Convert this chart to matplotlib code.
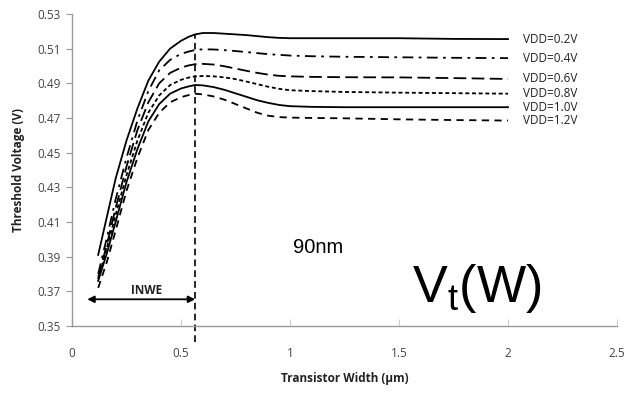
import numpy as np
import matplotlib.pyplot as plt

# transistor width (um) and threshold voltage (V) for each VDD
w = [0.12, 0.16, 0.2, 0.25, 0.3, 0.35, 0.4, 0.45, 0.5, 0.535, 0.565, 0.6, 0.65, 0.7, 0.75,
     0.8, 0.85, 0.9, 0.95, 1.0, 1.1, 1.25, 1.5, 1.75, 2.0]

vt_02 = [0.391, 0.413, 0.435, 0.457, 0.4755, 0.4915, 0.5025, 0.5100, 0.5145, 0.5168, 0.5182, 0.5190, 0.5190, 0.5186, 0.5182,
         0.5178, 0.5172, 0.5166, 0.5162, 0.5160, 0.5160, 0.5160, 0.5160, 0.5156, 0.5155]
vt_04 = [0.380, 0.401, 0.423, 0.447, 0.4685, 0.4855, 0.4975, 0.5035, 0.5070, 0.5083, 0.5092, 0.5096, 0.5095, 0.5091, 0.5086,
         0.5080, 0.5074, 0.5068, 0.5064, 0.5060, 0.5056, 0.5053, 0.5050, 0.5047, 0.5045]
vt_06 = [0.378, 0.397, 0.418, 0.442, 0.4630, 0.4790, 0.4900, 0.4960, 0.4990, 0.5003, 0.5010, 0.5012, 0.5008, 0.4998, 0.4985,
         0.4972, 0.4960, 0.4950, 0.4943, 0.4940, 0.4937, 0.4935, 0.4934, 0.4930, 0.4925]
vt_08 = [0.377, 0.395, 0.414, 0.437, 0.4570, 0.4730, 0.4830, 0.4890, 0.4920, 0.4933, 0.4940, 0.4942, 0.4940, 0.4934, 0.4924,
         0.4910, 0.4895, 0.4880, 0.4868, 0.4860, 0.4855, 0.4850, 0.4846, 0.4843, 0.4840]
vt_10 = [0.376, 0.392, 0.410, 0.433, 0.4520, 0.4680, 0.4780, 0.4840, 0.4870, 0.4882, 0.4890, 0.4888, 0.4878, 0.4862, 0.4842,
         0.4822, 0.4802, 0.4787, 0.4775, 0.4768, 0.4764, 0.4762, 0.4762, 0.4762, 0.4762]
vt_12 = [0.372, 0.387, 0.405, 0.428, 0.4470, 0.4630, 0.4730, 0.4790, 0.4820, 0.4832, 0.4840, 0.4836, 0.4824, 0.4805, 0.4780,
         0.4755, 0.4730, 0.4713, 0.4705, 0.4702, 0.4700, 0.4698, 0.4692, 0.4688, 0.4685]

labels = ['VDD=0.2V', 'VDD=0.4V', 'VDD=0.6V', 'VDD=0.8V', 'VDD=1.0V', 'VDD=1.2V']
series = [vt_02, vt_04, vt_06, vt_08, vt_10, vt_12]
styles = ['-', (0, (6, 3, 1.5, 3)), (0, (7, 3)), (0, (2.2, 1.5)), '-', (0, (4, 3))]

w_inwe = 0.565   # INWE boundary
inwe_start = 0.07

fig = plt.figure(figsize=(6.24, 3.95), dpi=100)
ax = fig.add_axes([0.1154, 0.1747, 0.8734, 0.79])

for y, lab, ls in zip(series, labels, styles):
    ax.plot(w, y, color='black', lw=1.3, ls=ls)
    ax.text(2.07, y[-1], lab, fontsize=8.5, family='Open Sans', color='#222222',
            va='center', ha='left')

ax.plot([w_inwe, w_inwe], [0.3408, max(vt_02) - 0.0008], color='black', lw=1.2,
        ls=(0, (4, 2.5)), clip_on=False)

ax.annotate('', xy=(inwe_start, 0.3654), xytext=(w_inwe, 0.3654),
            arrowprops=dict(arrowstyle='<|-|>', color='black', lw=1.3,
                            mutation_scale=10, shrinkA=0, shrinkB=0))
ax.text(0.34, 0.3665, 'INWE', fontsize=8.5, fontweight='bold', family='Open Sans',
        ha='center', va='bottom', color='#222222')

ax.text(1.014, 0.395, '90nm', fontsize=14.5, family='Liberation Sans', va='center', ha='left')
ax.text(1.56, 0.3638, r'$\mathregular{V_t(W)}$', fontsize=37.5, family='Liberation Sans',
        va='baseline', ha='left')

ax.set_xlim(0, 2.5)
ax.set_ylim(0.35, 0.53)
ax.set_xticks([0, 0.5, 1, 1.5, 2, 2.5])
ax.set_xticklabels(['0', '0.5', '1', '1.5', '2', '2.5'])
ax.set_yticks(np.arange(0.35, 0.5301, 0.02))
ax.set_yticklabels(['%.2f' % v for v in np.arange(0.35, 0.5301, 0.02)])

for s in ['top', 'right']:
    ax.spines[s].set_visible(False)
for s in ['left', 'bottom']:
    ax.spines[s].set_color('#999999')
    ax.spines[s].set_linewidth(1.0)

ax.tick_params(axis='x', direction='in', length=5, color='#cccccc', pad=15,
               labelsize=8.5, labelcolor='#444444')
ax.tick_params(axis='y', direction='out', length=4, color='#999999', pad=4,
               labelsize=8.5, labelcolor='#444444')
for t in ax.get_xticklabels() + ax.get_yticklabels():
    t.set_family('Open Sans')

ax.set_xlabel('Transistor Width (µm)', fontsize=8.5, fontweight='bold', family='Open Sans',
              labelpad=9, color='#222222')
ax.set_ylabel('Threshold Voltage (V)', fontsize=8.5, fontweight='bold', family='Open Sans',
              labelpad=9, color='#222222')

fig.savefig('out.png', dpi=100)
